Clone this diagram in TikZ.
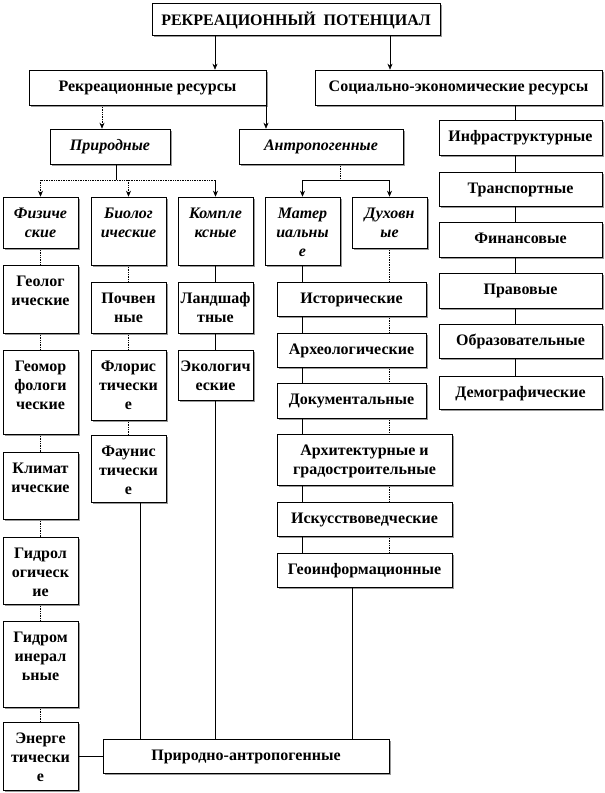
\documentclass[tikz,border=0pt]{standalone}
\usepackage{fontspec}
\setmainfont{Liberation Serif}
\usetikzlibrary{arrows.meta,shadows}
\tikzset{
  box/.style={draw=black, line width=0.6pt, fill=white, inner sep=0pt,
    drop shadow={shadow xshift=1.6pt, shadow yshift=-1.6pt, fill=black!40, opacity=1}},
  lab/.style={font=\bfseries\fontsize{16}{19}\selectfont, align=center, inner sep=0pt},
  ilab/.style={lab, font=\bfseries\itshape\fontsize{16}{19}\selectfont},
  arr/.style={-{Stealth[length=6pt,width=5pt]}},
  conn/.style={line width=0.6pt},
  dconn/.style={line width=0.7pt, densely dotted},
}
% \bx[label style]{name}{cx}{cy}{w}{h}{text}
\newcommand\bx[7][lab]{%
  \node[box, minimum width=#5pt, minimum height=#6pt] (#2) at (#3,#4) {};
  \node[#1, anchor=north] (#2t) at ([yshift=-8.5pt]#2.north) {\strut #7};}
\begin{document}
\begin{tikzpicture}[x=1pt,y=-1pt]
\fill[white] (0,0) rectangle (605,793);
\useasboundingbox (0,0) rectangle (605,793);

% top levels
\bx{top}{296}{19}{288}{32}{РЕКРЕАЦИОННЫЙ \ ПОТЕНЦИАЛ}
\bx{rek}{147.5}{87.5}{237}{35}{Рекреационные ресурсы}
\bx{soc}{458.5}{87.5}{287}{35}{Социально-экономические ресурсы}
\bx[ilab]{prir}{110}{146.5}{120}{35}{Природные}
\bx[ilab]{antr}{321}{146.5}{164}{35}{Антропогенные}

% right column
\bx{infra}{520.5}{137.5}{163}{35}{Инфраструктурные}
\bx{transp}{520.5}{189}{163}{34}{Транспортные}
\bx{fin}{520.5}{239.5}{163}{35}{Финансовые}
\bx{prav}{520.5}{290.5}{163}{35}{Правовые}
\bx{obr}{520.5}{341}{163}{34}{Образовательные}
\bx{dem}{520.5}{392.5}{163}{33}{Демографические}

% second row
\bx[ilab]{fiz}{40.5}{222.5}{75}{51}{Физиче\\ские}
\bx[ilab]{bio}{128.5}{231}{75}{68}{Биолог\\ические}
\bx[ilab]{komp}{215.5}{231}{75}{68}{Компле\\ксные}
\bx[ilab]{mat}{302.5}{231}{75}{68}{Матер\\иальны\\е}
\bx[ilab]{duh}{389.5}{222.5}{75}{51}{Духовн\\ые}

% left column
\bx{geol}{40.5}{299}{75}{68}{Геолог\\ические}
\bx{geomor}{40.5}{392}{75}{84}{Геомор\\фологи\\ческие}
\bx{klim}{40.5}{485.5}{75}{67}{Климат\\ические}
\bx{gidrol}{40.5}{570.5}{75}{67}{Гидрол\\огическ\\ие}
\bx{gidromin}{40.5}{664}{75}{86}{Гидром\\инерал\\ьные}
\bx{energ}{40.5}{756}{75}{68}{Энерге\\тически\\е}

% bio column
\bx{poch}{128.5}{307.5}{75}{51}{Почвен\\ные}
\bx{flor}{128.5}{385}{75}{70}{Флорис\\тически\\е}
\bx{faun}{128.5}{468.5}{75}{67}{Фаунис\\тически\\е}

% complex column
\bx{land}{215.5}{307.5}{75}{51}{Ландшаф\\тные}
\bx{ekol}{215.5}{375}{75}{50}{Экологич\\еские}

% anthropogenic column
\bx{ist}{351.5}{299}{149}{34}{Исторические}
\bx{arh}{351.5}{350}{149}{34}{Археологические}
\bx{dok}{351.5}{400.5}{149}{35}{Документальные}
\bx{arch}{364.5}{459.5}{175}{51}{Архитектурные и\\градостроительные}
\bx{isk}{364.5}{519}{175}{34}{Искусствоведческие}
\bx{geoinf}{364.5}{570}{175}{34}{Геоинформационные}

% bottom
\bx{pa}{246}{756}{286}{34}{Природно-антропогенные}

% helper x positions
\coordinate (xa) at (215,0);
\coordinate (xb) at (390,0);
\coordinate (xc) at (102,0);
\coordinate (xd) at (266,0);
\coordinate (xe) at (515,0);
\coordinate (pb) at (116,180);
\coordinate (ab) at (340,180);
\coordinate (xF) at (140,0);
\coordinate (xG) at (352,0);

% connectors top
\draw[conn,arr] (top.south -| xa) -- (rek.north -| xa);
\draw[conn,arr] (top.south -| xb) -- (soc.north -| xb);
\draw[dconn,arr] (rek.south -| xc) -- (prir.north -| xc);
\draw[conn,arr] (rek.south -| xd) -- (antr.north -| xd);

% right chain
\draw[conn] (soc.south -| xe) -- (infra.north -| xe);
\foreach \a/\b in {infra/transp, transp/fin, fin/prav, prav/obr, obr/dem}
  \draw[conn] (\a.south -| xe) -- (\b.north -| xe);

% natural branch
\draw[conn] (prir.south -| pb) -- (pb);
\draw[dconn] (fiz.north |- pb) -- (komp.north |- pb);
\draw[dconn,arr] (fiz.north |- pb) -- (fiz.north);
\draw[dconn,arr] (bio.north |- pb) -- (bio.north);
\draw[conn,arr] (komp.north |- pb) -- (komp.north);

% anthropogenic branch
\draw[dconn] (antr.south -| ab) -- (ab);
\draw[conn] (mat.north |- ab) -- (duh.north |- ab);
\draw[conn,arr] (mat.north |- ab) -- (mat.north);
\draw[conn,arr] (duh.north |- ab) -- (duh.north);

% left column chain (dotted)
\foreach \a/\b in {fiz/geol, geol/geomor, geomor/klim, klim/gidrol, gidrol/gidromin, gidromin/energ}
  \draw[dconn] (\a.south) -- (\b.north);

% bio chain (dotted)
\foreach \a/\b in {bio/poch, poch/flor, flor/faun}
  \draw[dconn] (\a.south) -- (\b.north);
\draw[conn] (faun.south -| xF) -- (pa.north -| xF);

% complex chain
\foreach \a/\b in {komp/land, land/ekol}
  \draw[conn] (\a.south) -- (\b.north);
\draw[conn] (ekol.south) -- (pa.north -| ekol.south);

% material chain (solid) and spiritual chain (dotted)
\draw[conn] (mat.south) -- (ist.north -| mat.south);
\foreach \a/\b in {ist/arh, arh/dok, dok/arch, arch/isk, isk/geoinf}
  \draw[conn] (\a.south -| mat.south) -- (\b.north -| mat.south);
\draw[dconn] (duh.south) -- (ist.north -| duh.south);
\foreach \a/\b in {ist/arh, arh/dok, dok/arch, arch/isk, isk/geoinf}
  \draw[dconn] (\a.south -| duh.south) -- (\b.north -| duh.south);
\draw[conn] (geoinf.south -| xG) -- (pa.north -| xG);

% energetic to bottom
\draw[conn] (energ.east) -- (pa.west);
\end{tikzpicture}
\end{document}
